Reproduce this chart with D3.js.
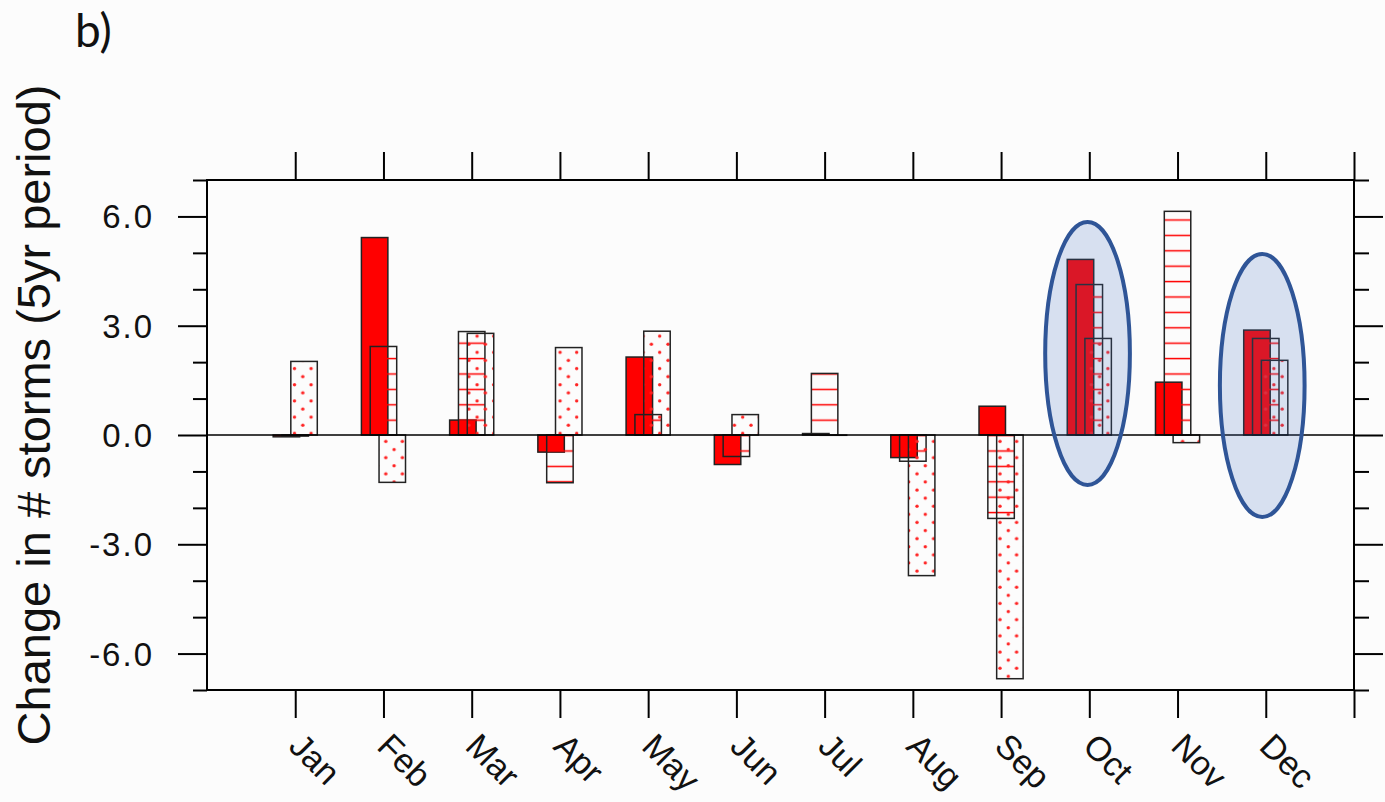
<!DOCTYPE html>
<html>
<head>
<meta charset="utf-8">
<script src="https://d3js.org/d3.v7.min.js"></script>
<style>
  body { margin: 0; background: #fcfcfc; }
  text { font-family: "Liberation Sans", Arial, sans-serif; }
</style>
</head>
<body>
  <div id="my_dataviz"></div>
  <script>
    // data
    var months = ["Jan","Feb","Mar","Apr","May","Jun","Jul","Aug","Sep","Oct","Nov","Dec"];
    var solidVals   = [-0.05, 5.42, 0.41, -0.47, 2.14, -0.81, 0.04, -0.62, 0.79, 4.82, 1.45, 2.88];
    var hatchVals   = [-0.03, 2.43, 2.84, -1.31, 0.56, -0.59, 1.69, -0.72, -2.29, 4.13, 6.14, 2.65];
    var dotVals     = [2.02, -1.30, 2.79, 2.40, 2.85, 0.56, 0.0, -3.86, -6.69, 2.65, -0.21, 2.05];
    var yMajor = [-6, -3, 0, 3, 6];
    var yMinor = [-7, -5, -4, -2, -1, 1, 2, 4, 5, 7];

    // highlighted months (ellipses): centre in month units / value units
    var ellipseX  = [9.98, 11.96];
    var ellipseY  = [2.24, 1.36];
    var ellipseRx = 0.48;
    var ellipseRy = 3.61;

    var width = 1385, height = 802;
    var margin = {top:180, right:31, bottom:112, left:207};

    var svg = d3.select("#my_dataviz")
      .append("svg")
      .attr("width", width)
      .attr("height", height);

    var x = d3.scaleLinear().domain([0, 13]).range([margin.left, width - margin.right]);
    var y = d3.scaleLinear().domain([-7, 7]).range([height - margin.bottom, margin.top]);

    var defs = svg.append("defs");
    var hp = defs.append("pattern")
      .attr("id", "hatch")
      .attr("patternUnits", "userSpaceOnUse")
      .attr("width", 10).attr("height", 15.4);
    hp.append("line")
      .attr("x1", 0).attr("x2", 10).attr("y1", 4.4).attr("y2", 4.4)
      .style("stroke", "#f00").style("stroke-width", 1.5);

    var dp = defs.append("pattern")
      .attr("id", "dots")
      .attr("patternUnits", "userSpaceOnUse")
      .attr("width", 16.6).attr("height", 16.2);
    dp.append("circle").attr("cx", 4).attr("cy", 4).attr("r", 1.7).style("fill", "#f22");
    dp.append("circle").attr("cx", 12.3).attr("cy", 12.1).attr("r", 1.7).style("fill", "#f22");

    var barW = 0.3;
    var series = [
      {vals: solidVals, off: -0.1, fill: "#ff0000"},
      {vals: hatchVals, off: 0,    fill: "url(#hatch)"},
      {vals: dotVals,   off: 0.1,  fill: "url(#dots)"}
    ];

    series.forEach(function(s) {
      svg.append("g")
        .selectAll("rect")
        .data(s.vals)
        .enter()
        .append("rect")
        .attr("x", function(d, i) { return x(i + 1 + s.off - barW / 2); })
        .attr("width", x(barW) - x(0))
        .attr("y", function(d) { return y(Math.max(d, 0)); })
        .attr("height", function(d) { return Math.max(Math.abs(y(d) - y(0)), 0.3); })
        .style("fill", s.fill)
        .style("stroke", "#222")
        .style("stroke-width", 1.5);
    });

    // zero line
    svg.append("line")
      .attr("x1", x(0)).attr("x2", x(13))
      .attr("y1", y(0)).attr("y2", y(0))
      .style("stroke", "#000").style("stroke-width", 1.6);

    // ellipses
    svg.append("g")
      .selectAll("ellipse")
      .data(ellipseX)
      .enter()
      .append("ellipse")
      .attr("cx", function(d) { return x(d); })
      .attr("cy", function(d, i) { return y(ellipseY[i]); })
      .attr("rx", x(ellipseRx) - x(0))
      .attr("ry", y(0) - y(ellipseRy))
      .style("fill", "rgba(68,114,196,0.2)")
      .style("stroke", "#2f5597")
      .style("stroke-width", 4);

    // frame
    svg.append("rect")
      .attr("x", x(0)).attr("y", y(7))
      .attr("width", x(13) - x(0)).attr("height", y(-7) - y(7))
      .style("fill", "none").style("stroke", "#000").style("stroke-width", 2);

    var monthTicks = d3.range(1, 14);
    var axBottom = svg.append("g")
      .attr("transform", "translate(0," + y(-7) + ")")
      .call(d3.axisBottom(x).tickValues(monthTicks).tickSize(28).tickFormat(""));
    var axTop = svg.append("g")
      .attr("transform", "translate(0," + y(7) + ")")
      .call(d3.axisTop(x).tickValues(monthTicks).tickSize(28).tickFormat(""));
    var axLeft = svg.append("g")
      .attr("transform", "translate(" + x(0) + ",0)")
      .call(d3.axisLeft(y).tickValues(yMajor).tickSize(29).tickFormat(""));
    var axLeftMin = svg.append("g")
      .attr("transform", "translate(" + x(0) + ",0)")
      .call(d3.axisLeft(y).tickValues(yMinor).tickSize(14).tickFormat(""));
    var axRight = svg.append("g")
      .attr("transform", "translate(" + x(13) + ",0)")
      .call(d3.axisRight(y).tickValues(yMajor).tickSize(29).tickFormat(""));
    var axRightMin = svg.append("g")
      .attr("transform", "translate(" + x(13) + ",0)")
      .call(d3.axisRight(y).tickValues(yMinor).tickSize(15).tickFormat(""));

    [axBottom, axTop, axLeft, axLeftMin, axRight, axRightMin].forEach(function(a) {
      a.select(".domain").remove();
      a.selectAll("line").style("stroke", "#000").style("stroke-width", 2);
    });

    // y tick labels
    svg.append("g")
      .selectAll("text")
      .data(yMajor)
      .enter()
      .append("text")
      .attr("x", x(0) - 53)
      .attr("y", function(d) { return y(d) + 12; })
      .attr("text-anchor", "end")
      .style("font-size", "33px")
      .style("letter-spacing", "2px")
      .style("fill", "#111")
      .text(function(d) { return d.toFixed(1); });

    // month labels
    svg.append("g")
      .selectAll("text")
      .data(months)
      .enter()
      .append("text")
      .attr("transform", function(d, i) {
        return "translate(" + (x(i + 1) - 8) + "," + (y(-7) + 58) + ") rotate(45)";
      })
      .style("font-size", "34px")
      .style("fill", "#111")
      .text(function(d) { return d; });

    // y axis title
    svg.append("text")
      .attr("transform", "translate(50,415) rotate(-90)")
      .attr("text-anchor", "middle")
      .style("font-size", "47px")
      .style("fill", "#111")
      .text("Change in # storms (5yr period)");

    svg.append("text")
      .attr("x", 75).attr("y", 47)
      .style("font-family", "Lato, 'Open Sans', sans-serif")
      .style("font-size", "46px")
      .style("fill", "#111")
      .text("b)");
  </script>
</body>
</html>
